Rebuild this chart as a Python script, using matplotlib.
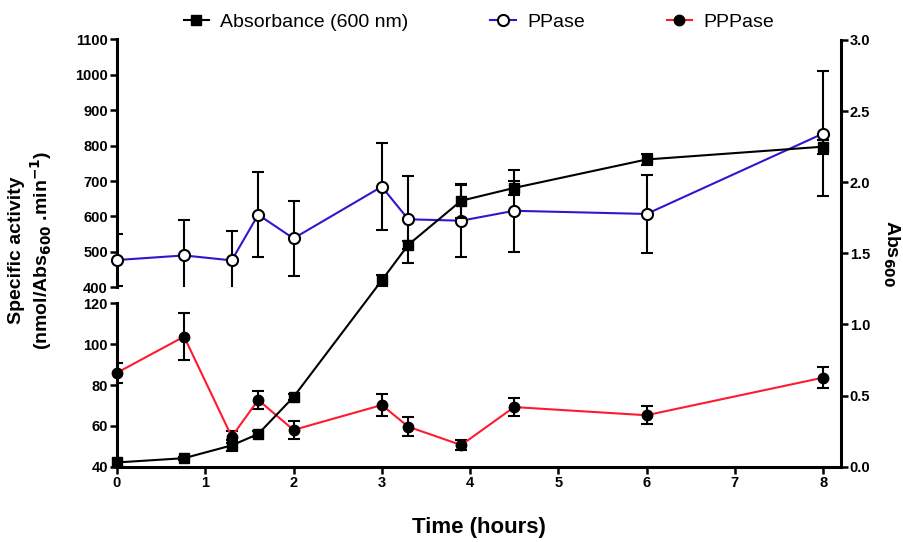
import matplotlib
matplotlib.use('Agg')
import matplotlib.pyplot as plt
from matplotlib.lines import Line2D

plt.rcParams['font.family'] = ['Liberation Sans', 'DejaVu Sans']
plt.rcParams['font.weight'] = 'bold'

# datos
tiempo = [0, 0.76, 1.3, 1.6, 2, 3, 3.3, 3.9, 4.5, 6, 8]
abs600 = [0.03, 0.06, 0.15, 0.23, 0.49, 1.31, 1.56, 1.87, 1.96, 2.16, 2.25]
abs_err = [0.01, 0.01, 0.04, 0.02, 0.02, 0.04, 0.03, 0.12, 0.05, 0.04, 0.05]
ppase = [477, 490, 476, 605, 538, 684, 592, 588, 616, 607, 834]
ppase_err = [73, 100, 82, 120, 107, 122, 122, 102, 115, 110, 176]
pppase = [86.0, 103.7, 54.7, 72.7, 58.0, 70.2, 59.6, 50.6, 69.2, 65.2, 83.6]
pppase_err = [5, 11.6, 3, 4.5, 4.5, 5.4, 4.6, 2.5, 4.4, 4.3, 5]

azul = '#3414cf'
rojo = '#ff1a30'
lw_eje = 2.2

fig = plt.figure(figsize=(9.04, 5.42), dpi=100)
L, W = 0.1294, 0.8006
ax_top = fig.add_axes([L, 0.4699, W, 0.4576])
ax_bot = fig.add_axes([L, 0.1389, W, 0.3015])
ax_abs = fig.add_axes([L, 0.1389, W, 0.7873])
ax_abs.patch.set_alpha(0)

for ax in (ax_top, ax_bot, ax_abs):
    ax.set_xlim(0, 8.2)
    for s in ax.spines.values():
        s.set_visible(False)
        s.set_linewidth(lw_eje)
    ax.tick_params(width=1.8, length=5, labelsize=10.5, pad=1.5)

ax_top.spines['left'].set_visible(True)
ax_bot.spines['left'].set_visible(True)
ax_bot.spines['bottom'].set_visible(True)
ax_abs.spines['right'].set_visible(True)

ax_top.set_ylim(400, 1100)
ax_top.set_yticks(range(400, 1101, 100))
ax_top.set_xticks([])
ax_bot.set_ylim(40, 120)
ax_bot.set_yticks(range(40, 121, 20))
ax_bot.set_xticks(range(0, 9))
ax_abs.set_ylim(0, 3.0)
ax_abs.set_yticks([0, 0.5, 1.0, 1.5, 2.0, 2.5, 3.0])
ax_abs.set_yticklabels(['0.0', '0.5', '1.0', '1.5', '2.0', '2.5', '3.0'])
ax_abs.set_xticks([])
ax_abs.yaxis.tick_right()

# PPase (segmento superior)
ax_top.errorbar(tiempo, ppase, yerr=ppase_err, fmt='none', ecolor='black',
                elinewidth=1.5, capsize=4, capthick=1.5)
ax_top.plot(tiempo, ppase, color=azul, lw=1.5, marker='o', ms=8,
            mfc='white', mec='black', mew=1.5, clip_on=False, zorder=3)

# PPPase (segmento inferior)
ax_bot.errorbar(tiempo, pppase, yerr=pppase_err, fmt='none', ecolor='black',
                elinewidth=1.5, capsize=4, capthick=1.5)
ax_bot.plot(tiempo, pppase, color=rojo, lw=1.5, marker='o', ms=7.5,
            mfc='black', mec='black', clip_on=False, zorder=3)

# Absorbancia (eje derecho)
ax_abs.errorbar(tiempo, abs600, yerr=abs_err, fmt='none', ecolor='black',
                elinewidth=1.5, capsize=4, capthick=1.5)
ax_abs.plot(tiempo, abs600, color='black', lw=1.5, marker='s', ms=7,
            mfc='black', mec='black', clip_on=False, zorder=3)

handles = [
    Line2D([], [], color='black', lw=1.5, marker='s', ms=7),
    Line2D([], [], color=azul, lw=1.5, marker='o', ms=8, mfc='white', mec='black', mew=1.5),
    Line2D([], [], color=rojo, lw=1.5, marker='o', ms=7.5, mfc='black', mec='black'),
]
fig.legend(handles, ['Absorbance (600 nm)', 'PPase', 'PPPase'], loc='center',
           bbox_to_anchor=(479 / 904, 1 - 22 / 542), ncol=3, frameon=False,
           prop={'size': 14, 'weight': 'normal'}, handlelength=1.3,
           handletextpad=0.6, columnspacing=4.2)

fig.text(31 / 904, 1 - 250 / 542, 'Specific activity\n(nmol/Abs$_{\\mathbf{600}}$ .min$^{\\mathbf{-1}}$)',
         rotation=90, ha='center', va='center', fontsize=14, fontweight='bold',
         linespacing=1.15)
fig.text(891 / 904, 1 - 253 / 542, 'Abs$_{\\mathbf{600}}$', rotation=270,
         ha='center', va='center', fontsize=14, fontweight='bold')
fig.text(479 / 904, 1 - 528 / 542, 'Time (hours)', ha='center', va='center',
         fontsize=16, fontweight='bold')

plt.savefig('out.png', dpi=100)
